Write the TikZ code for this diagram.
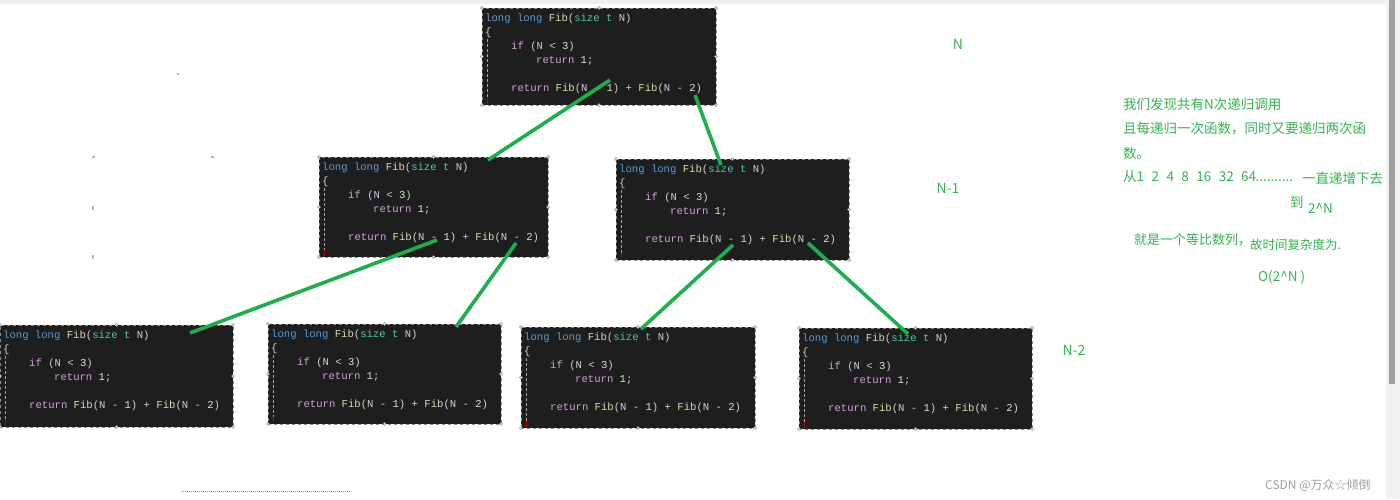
\documentclass[tikz,border=0pt]{standalone}
\usepackage{fontspec}
\setmonofont{Liberation Mono}
\newfontfamily\cjk{Noto Sans CJK SC}
\usetikzlibrary{calc}
\definecolor{bg}{HTML}{1E1E1E}
\definecolor{kw}{HTML}{569CD6}
\definecolor{fn}{HTML}{DCDCAA}
\definecolor{ty}{HTML}{4EC9B0}
\definecolor{vr}{HTML}{C8C8E0}
\definecolor{ct}{HTML}{D49FDB}
\definecolor{nm}{HTML}{D8E8C8}
\definecolor{pn}{HTML}{D4D4D4}
\definecolor{gln}{HTML}{1CAF4A}
\definecolor{gtx}{HTML}{35B34E}
\definecolor{hdlc}{HTML}{8A8A8A}
\newcommand\fibcode{%
\textcolor{kw}{long long}\ \textcolor{fn}{Fib}\textcolor{pn}{(}\textcolor{ty}{size t}\ \textcolor{vr}{N}\textcolor{pn}{)}\\
\textcolor{pn}{\{}\\
\hspace*{26pt}\textcolor{ct}{if}\ \textcolor{pn}{(}\textcolor{vr}{N}\ \textcolor{pn}{<}\ \textcolor{nm}{3}\textcolor{pn}{)}\\
\hspace*{51pt}\textcolor{ct}{return}\ \textcolor{nm}{1}\textcolor{pn}{;}\\[14pt]
\hspace*{26pt}\textcolor{ct}{return}\ \textcolor{fn}{Fib}\textcolor{pn}{(}\textcolor{vr}{N}\ \textcolor{pn}{-}\ \textcolor{nm}{1}\textcolor{pn}{)}\ \textcolor{pn}{+}\ \textcolor{fn}{Fib}\textcolor{pn}{(}\textcolor{vr}{N}\ \textcolor{pn}{-}\ \textcolor{nm}{2}\textcolor{pn}{)}}
\tikzset{
  cbox/.style={fill=bg, draw=hdlc, dashed, line width=0.6pt, inner sep=0pt, outer sep=0pt, anchor=north west},
  code/.style={anchor=north west, inner xsep=2pt, inner ysep=0pt, align=left, font=\ttfamily\fontsize{10.6}{14}\selectfont},
  guide/.style={draw=gray!70, densely dashed, line width=0.5pt},
  hdl/.style={draw=hdlc, fill=white, line width=0.4pt},
  conn/.style={draw=gln, line width=3.6pt},
  gtxt/.style={text=gtx, font=\cjk\fontsize{13.5}{16}\selectfont, anchor=west, inner sep=0pt},
  lvl/.style={text=gtx, font=\cjk\fontsize{14}{16}\selectfont, anchor=center, inner sep=0pt},
  speck/.style={fill=gray!60}
}
\newcommand\codebox[5]{%
  \node[cbox, minimum width=#4pt, minimum height=#5pt] (#1) at (#2,#3) {};
  \draw[guide] ($(#1.north west)+(5,31)$) -- ($(#1.south west)+(5,-3)$);
  \draw[red!70!black, line width=0.8pt] ($(#1.south west)+(5,-7)$) -- ($(#1.south west)+(5,-1)$);
  \node[code] (#1c) at ($(#1.north west)+(1,6)$) {\fibcode};
  \foreach \a in {north west,north,north east,east,south east,south,south west,west}
    \draw[hdl] (#1.\a) circle (1.5);
}
\begin{document}
\begin{tikzpicture}[x=1pt,y=-1pt]
\useasboundingbox (0,0) rectangle (1400,499);
\fill[white] (0,0) rectangle (1400,499);
\fill[gray!12] (0,0) rectangle (1386,3.5);
% scrollbar
\fill[gray!10] (1386,0) rectangle (1400,499);
\fill[gray!75] (1389,0) rectangle (1395,384);
% stray marks
\fill[speck] (177,73) rectangle (179,75);
\fill[speck] (92,156) rectangle (95,158);
\fill[speck] (211,156) rectangle (214,158);
\fill[speck] (92,206) rectangle (94,210);
\fill[speck] (92,255) rectangle (94,259);
\draw[gtx!80!cyan, densely dotted, line width=1pt] (181,491) -- (350,491);
% code boxes
\codebox{top}{482}{8}{234}{97}
\codebox{ml}{319}{157}{229}{100}
\codebox{mr}{616}{159}{233}{101}
\codebox{ba}{0}{325}{233}{102}
\codebox{bb}{268}{324}{233}{100}
\codebox{bc}{521}{327}{234}{101}
\codebox{bd}{799}{328}{233}{101}
% connector end points
\coordinate (t1) at (610,80);   \coordinate (m1) at (488,160);
\coordinate (t2) at (695,95);   \coordinate (m2) at (721,165);
\coordinate (l1) at (437,240);  \coordinate (a1) at (190,333);
\coordinate (l2) at (516,243);  \coordinate (b1) at (456,327);
\coordinate (r1) at (733,245);  \coordinate (c1) at (641,329);
\coordinate (r2) at (808,243);  \coordinate (d1) at (908,334);
\draw[conn] (t1) -- (m1);
\draw[conn] (t2) -- (m2);
\draw[conn] (l1) -- (a1);
\draw[conn] (l2) -- (b1);
\draw[conn] (r1) -- (c1);
\draw[conn] (r2) -- (d1);
% level labels
\node[lvl] (lN) at (958,44) {N};
\node[lvl] (lN1) at (948,188) {N-1};
\node[lvl] (lN2) at (1074,350) {N-2};
% explanation
\node[gtxt] (e1) at (1123,104) {我们发现共有N次递归调用};
\node[gtxt] (e2) at (1123,129) {且每递归一次函数，同时又要递归两次函};
\node[gtxt] (e3) at (1123,153) {数。};
\node[gtxt] (e4) at (1123,176) {从1\hspace{0.55em}2\hspace{0.55em}4\hspace{0.55em}8\hspace{0.55em}16\hspace{0.55em}32\hspace{0.55em}64\hspace{-0.05em}..........};
\node[gtxt] (e5) at (1302,178) {一直递增下去};
\node[gtxt] (e6) at (1290,202) {到};
\node[gtxt] (e7) at (1308,208) {2\^{}N};
\node[gtxt, font=\cjk\fontsize{13}{15}\selectfont] (e8) at (1134,240) {就是一个等比数列，};
\node[gtxt, font=\cjk\fontsize{12.5}{15}\selectfont] (e9) at (1250,245) {故时间复杂度为.};
\node[gtxt] (e10) at (1258,277) {O(2\^{}N )};
% watermark
\node[anchor=west, inner sep=0pt, text=gray!75, font=\cjk\fontsize{12}{14}\selectfont] (wm) at (1265,485) {CSDN @万众☆倾倒};
\end{tikzpicture}
\end{document}
